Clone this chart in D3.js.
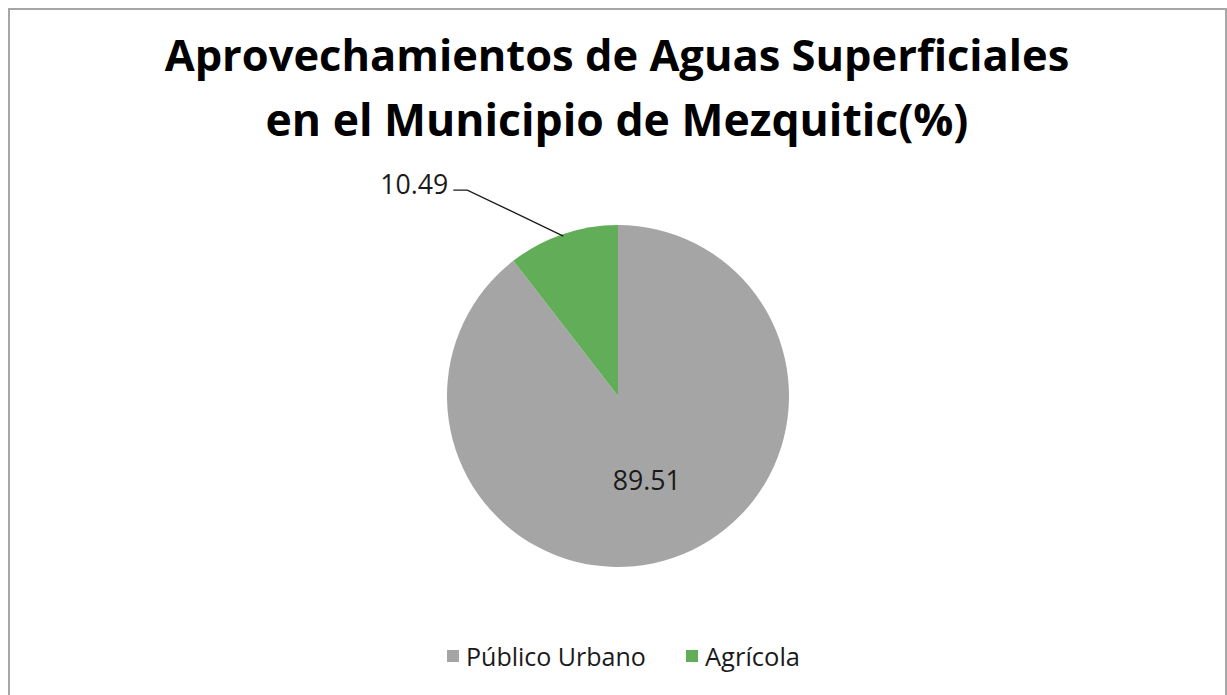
<!DOCTYPE html>
<html>
<head>
<meta charset="utf-8">
<script src="https://cdn.jsdelivr.net/npm/d3@7"></script>
<style>
  html, body { margin: 0; padding: 0; background: #ffffff; }
  svg { display: block; }
</style>
</head>
<body>
<svg id="chart" width="1227" height="695"></svg>
<script>
// ---- Data ----
const titleLines = ["Aprovechamientos de Aguas Superficiales", "en el Municipio de Mezquitic(%)"];
const categories = ["Público Urbano", "Agrícola"];
const values = [89.51, 10.49];
const valueLabels = ["89.51", "10.49"];
const colors = ["#a5a5a5", "#62ae58"];

const W = 1227, H = 695;
const svg = d3.select("#chart");
const FONT = "'Open Sans', 'Noto Sans', 'DejaVu Sans', sans-serif";

// frame
svg.append("rect")
  .attr("x", 9).attr("y", 9).attr("width", 1217).attr("height", 720)
  .attr("fill", "#ffffff").attr("stroke", "#a6a6a6").attr("stroke-width", 2);

// helper: fit text to a target width by adjusting font-size
function fitText(sel, targetWidth, startSize) {
  sel.style("font-size", startSize + "px");
  const w = sel.node().getComputedTextLength();
  const fs = startSize * targetWidth / w;
  sel.style("font-size", fs + "px");
  return fs;
}

// title
const titleCx = 617;
const titleBaselines = [71, 136];
const titleWidths = [905, 703];
titleLines.forEach((t, i) => {
  const tx = svg.append("text")
    .attr("x", titleCx).attr("y", titleBaselines[i])
    .attr("text-anchor", "middle")
    .style("font-family", FONT).style("font-weight", "bold")
    .attr("fill", "#000000")
    .text(t);
  fitText(tx, titleWidths[i], 44);
});

// pie
const cx = 618, cy = 396, r = 171;
const pie = d3.pie().sort(null).value(d => d.value);
const data = categories.map((c, i) => ({ name: c, value: values[i], label: valueLabels[i], color: colors[i] }));
const arcs = pie(data);
const arc = d3.arc().innerRadius(0).outerRadius(r);
const g = svg.append("g").attr("transform", `translate(${cx},${cy})`);

g.selectAll("path.slice").data(arcs).enter().append("path")
  .attr("class", "slice")
  .attr("d", arc)
  .attr("fill", d => d.data.color);

const insideArc = d3.arc().innerRadius(r * 0.52).outerRadius(r * 0.52);
const edgeArc = d3.arc().innerRadius(r - 2).outerRadius(r - 2);

// inside label for large slice
const big = arcs[0];
const bc = insideArc.centroid(big);
const bt = g.append("text")
  .attr("x", bc[0]).attr("y", bc[1])
  .attr("text-anchor", "middle").attr("dominant-baseline", "central")
  .style("font-family", FONT)
  .attr("fill", "#1a1a1a")
  .text(big.data.label);
fitText(bt, 68, 18);

// outside label with leader line for small slice
const small = arcs[1];
const p = edgeArc.centroid(small);
const elbow = [p[0] - 96, p[1] - 46];
const lineEnd = [elbow[0] - 14, elbow[1]];
g.append("polyline")
  .attr("points", [p, elbow, lineEnd].map(q => q.join(",")).join(" "))
  .attr("fill", "none").attr("stroke", "#1a1a1a").attr("stroke-width", 1.3);
const st = g.append("text")
  .attr("x", lineEnd[0] - 5).attr("y", lineEnd[1] - 6)
  .attr("text-anchor", "end").attr("dominant-baseline", "central")
  .style("font-family", FONT)
  .attr("fill", "#1a1a1a")
  .text(small.data.label);
fitText(st, 68, 18);

// legend
const legendY = 656;
const legendItems = [
  { sq: 447, tx: 466, w: 180 },
  { sq: 686, tx: 705, w: 95 }
];
data.forEach((d, i) => {
  const it = legendItems[i];
  svg.append("rect")
    .attr("x", it.sq).attr("y", legendY - 6).attr("width", 12).attr("height", 12)
    .attr("fill", d.color);
  const t = svg.append("text")
    .attr("x", it.tx).attr("y", legendY)
    .attr("dominant-baseline", "central")
    .style("font-family", FONT)
    .attr("fill", "#1a1a1a")
    .text(d.name);
  fitText(t, it.w, 17);
});
</script>
</body>
</html>
